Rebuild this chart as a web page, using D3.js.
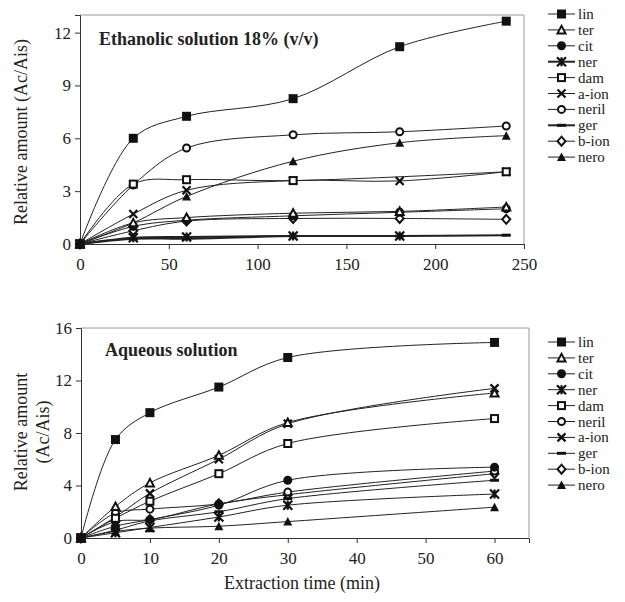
<!DOCTYPE html>
<html>
<head>
<meta charset="utf-8">
<script src="https://cdn.jsdelivr.net/npm/d3@7/dist/d3.min.js"></script>
<style>
  body { margin: 0; background: #fff; }
  svg text { font-family: "Liberation Serif", "DejaVu Serif", serif; fill: #222; }
</style>
</head>
<body>
<div id="chart"></div>
<script>
// compounds and their values (relative amount Ac/Ais)
const names = ["lin", "ter", "cit", "ner", "dam", "a-ion", "neril", "ger", "b-ion", "nero"];

// ethanolic solution 18% (v/v)
const timesEth = [0, 30, 60, 120, 180, 240];
const eth = {
  "lin":   [0, 6.0, 7.25, 8.25, 11.2, 12.65],
  "ter":   [0, 1.2, 1.5, 1.75, 1.85, 2.1],
  "cit":   [0, 1.0, 1.35, 1.6, 1.8, 2.0],
  "ner":   [0, 0.35, 0.4, 0.45, 0.45, null],
  "dam":   [0, 3.4, 3.65, 3.6, null, 4.1],
  "a-ion": [0, 1.7, 3.05, 3.6, 3.58, 4.1],
  "neril": [0, 3.35, 5.45, 6.2, 6.37, 6.7],
  "ger":   [0, 0.3, 0.3, 0.45, 0.45, 0.5],
  "b-ion": [0, 0.75, 1.3, 1.45, 1.45, 1.4],
  "nero":  [0, 1.2, 2.7, 4.7, 5.75, 6.15]
};
const ethTicksX = [0, 50, 100, 150, 200, 250];
const ethTicksY = [0, 3, 6, 9, 12];
const ethLegend = ["lin", "ter", "cit", "ner", "dam", "a-ion", "neril", "ger", "b-ion", "nero"];

// aqueous solution
const timesAq = [0, 5, 10, 20, 30, 60];
const aq = {
  "lin":   [0, 7.5, 9.55, 11.5, 13.75, 14.9],
  "ter":   [0, 2.4, 4.2, 6.3, 8.8, 11.05],
  "cit":   [0, 0.9, 1.4, 2.5, 4.4, 5.4],
  "ner":   [0, 0.4, 0.8, 1.6, 2.5, 3.35],
  "dam":   [0, 1.5, 2.8, 4.9, 7.2, 9.1],
  "a-ion": [0, 1.6, 3.4, 6.0, 8.7, 11.4],
  "neril": [0, 1.9, 2.2, 2.6, 3.5, 5.1],
  "ger":   [0, 0.6, 1.3, 2.0, 3.0, 4.4],
  "b-ion": [0, 1.25, 1.4, 2.6, 3.3, 4.9],
  "nero":  [0, 0.5, 0.75, 0.9, 1.25, 2.35]
};
const aqTicksX = [0, 10, 20, 30, 40, 50, 60];
const aqTicksY = [0, 4, 8, 12, 16];
const aqLegend = ["lin", "ter", "cit", "ner", "dam", "neril", "a-ion", "ger", "b-ion", "nero"];

const W = 625, H = 602;
const svg = d3.select("#chart").append("svg").attr("width", W).attr("height", H);

// marker shapes, r = half size
function marker(g, name, r) {
  const s = g.append("g").attr("class", "mk");
  const dark = "#111";
  if (name === "lin") {
    s.append("rect").attr("x", -r).attr("y", -r).attr("width", 2 * r).attr("height", 2 * r).attr("fill", dark);
  } else if (name === "ter") {
    s.append("path").attr("d", `M0,${-r + 0.5}L${r - 0.5},${r - 1}L${-r + 0.5},${r - 1}Z`)
      .attr("fill", "#fff").attr("stroke", dark).attr("stroke-width", 2);
  } else if (name === "cit") {
    s.append("circle").attr("r", r).attr("fill", dark);
  } else if (name === "ner") {
    s.append("path").attr("d", `M${-r},${-r}L${r},${r}M${r},${-r}L${-r},${r}M0,${-r}L0,${r}`)
      .attr("stroke", dark).attr("stroke-width", 2.2);
  } else if (name === "dam") {
    s.append("rect").attr("x", -r + 1).attr("y", -r + 1).attr("width", 2 * r - 2).attr("height", 2 * r - 2)
      .attr("fill", "#fff").attr("stroke", dark).attr("stroke-width", 2);
  } else if (name === "a-ion") {
    s.append("path").attr("d", `M${-r + 0.5},${-r + 0.5}L${r - 0.5},${r - 0.5}M${r - 0.5},${-r + 0.5}L${-r + 0.5},${r - 0.5}`)
      .attr("stroke", dark).attr("stroke-width", 2.2);
  } else if (name === "neril") {
    s.append("circle").attr("r", r - 1).attr("fill", "#fff").attr("stroke", dark).attr("stroke-width", 2);
  } else if (name === "ger") {
    s.append("rect").attr("x", -r).attr("y", -1.5).attr("width", 2 * r).attr("height", 3).attr("fill", dark);
  } else if (name === "b-ion") {
    s.append("path").attr("d", `M0,${-r}L${r - 0.5},0L0,${r}L${-r + 0.5},0Z`)
      .attr("fill", "#fff").attr("stroke", dark).attr("stroke-width", 2);
  } else if (name === "nero") {
    s.append("path").attr("d", `M0,${-r}L${r},${r - 0.5}L${-r},${r - 0.5}Z`).attr("fill", dark);
  }
  return s;
}

function panel(opt) {
  const x = d3.scaleLinear().domain(opt.xDomain).range([opt.left, opt.right]);
  const y = d3.scaleLinear().domain(opt.yDomain).range([opt.bottom, opt.top]);
  const g = svg.append("g");

  // gray frame on top and right
  g.append("path")
    .attr("d", `M${opt.left},${opt.top}H${opt.right}V${opt.bottom}`)
    .attr("fill", "none").attr("stroke", "#9a9a9a").attr("stroke-width", 1);

  const xAxis = g.append("g").attr("transform", `translate(0,${opt.bottom})`)
    .call(d3.axisBottom(x).tickValues(opt.xTicks).tickSize(5).tickPadding(9));
  const yAxis = g.append("g").attr("transform", `translate(${opt.left},0)`)
    .call(d3.axisLeft(y).tickValues(opt.yTicks).tickSize(5).tickPadding(4));
  [xAxis, yAxis].forEach(a => {
    a.select(".domain").attr("stroke", "#333");
    a.selectAll(".tick line").attr("stroke", "#333");
    a.selectAll("text").attr("font-size", 17).attr("font-family", "Liberation Serif, serif").attr("fill", "#222");
  });

  const line = d3.line().curve(d3.curveCatmullRom.alpha(0.5))
    .x(d => x(d[0])).y(d => y(d[1]));

  // draw in reverse so that lin sits on top
  names.slice().reverse().forEach(n => {
    const pts = opt.times.map((t, i) => [t, opt.data[n][i]]).filter(d => d[1] !== null);
    g.append("path").attr("d", line(pts)).attr("fill", "none")
      .attr("stroke", "#222").attr("stroke-width", opt.thick && opt.thick.includes(n) ? 2 : 1);
    pts.forEach(p => {
      marker(g, n, 4.5).attr("transform", `translate(${x(p[0])},${y(p[1])})`);
    });
  });

  g.append("text").attr("x", opt.titleX).attr("y", opt.titleY)
    .attr("font-size", 18).attr("font-weight", "bold").text(opt.title);

  // legend
  const lg = g.append("g").attr("transform", `translate(548,${opt.legendTop})`);
  opt.legend.forEach((n, i) => {
    const row = lg.append("g").attr("transform", `translate(0,${i * 15.9})`);
    row.append("line").attr("x1", 0).attr("x2", 27).attr("y1", 0).attr("y2", 0)
      .attr("stroke", "#222").attr("stroke-width", opt.thick && opt.thick.includes(n) ? 2 : 1);
    marker(row, n, 4.5).attr("transform", "translate(13.5,0)");
    row.append("text").attr("x", 30).attr("y", 5).attr("font-size", 15).text(n);
  });
  return { x, y };
}

panel({
  xDomain: [0, 250], yDomain: [0, 13],
  left: 80, right: 524, top: 15, bottom: 244,
  xTicks: ethTicksX, yTicks: ethTicksY,
  times: timesEth, data: eth, thick: ["ner", "ger"],
  title: "Ethanolic solution 18% (v/v)", titleX: 99, titleY: 45,
  legend: ethLegend, legendTop: 14
});

panel({
  xDomain: [0, 65], yDomain: [0, 16],
  left: 81, right: 529, top: 328, bottom: 538,
  xTicks: aqTicksX, yTicks: aqTicksY,
  times: timesAq, data: aq,
  title: "Aqueous solution", titleX: 105, titleY: 356,
  legend: aqLegend, legendTop: 342
});

// axis titles
svg.append("text").attr("transform", "translate(27,132) rotate(-90)")
  .attr("text-anchor", "middle").attr("font-size", 18).text("Relative amount (Ac/Ais)");
svg.append("text").attr("transform", "translate(27,432) rotate(-90)")
  .attr("text-anchor", "middle").attr("font-size", 18).text("Relative amount");
svg.append("text").attr("transform", "translate(49,432) rotate(-90)")
  .attr("text-anchor", "middle").attr("font-size", 18).text("(Ac/Ais)");
svg.append("text").attr("x", 302).attr("y", 589)
  .attr("text-anchor", "middle").attr("font-size", 18).text("Extraction time (min)");
</script>
</body>
</html>
